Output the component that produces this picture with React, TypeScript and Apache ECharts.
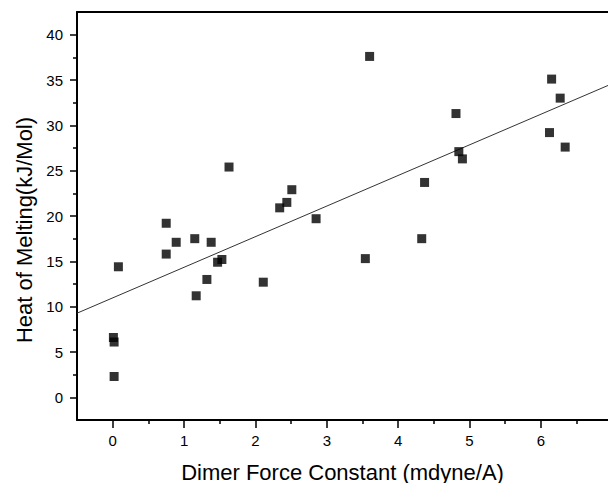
import React, { useEffect, useRef } from "react";
import * as echarts from "echarts";

// Data
const forceConstant = [
  0.01, 0.02, 0.02, 0.08, 0.75, 0.75, 0.89, 1.15, 1.17, 1.32, 1.38, 1.47, 1.53, 1.63, 2.11,
  2.34, 2.44, 2.51, 2.85, 3.54, 3.6, 4.33, 4.37, 4.81, 4.85, 4.9, 6.12, 6.15, 6.27, 6.34,
];
const heatOfMelting = [
  6.6, 6.1, 2.3, 14.4, 15.8, 19.2, 17.1, 17.5, 11.2, 13.0, 17.1, 14.9, 15.2, 25.4, 12.7,
  20.9, 21.5, 22.9, 19.7, 15.3, 37.6, 17.5, 23.7, 31.3, 27.1, 26.3, 29.2, 35.1, 33.0, 27.6,
];
// Linear fit line endpoints
const fitX = [-0.5, 7];
const fitY = [9.28, 34.6];

const xTickValues = [0, 1, 2, 3, 4, 5, 6];
const xMinorTickValues = [0.5, 1.5, 2.5, 3.5, 4.5, 5.5, 6.5];
const yTickValues = [0, 5, 10, 15, 20, 25, 30, 35, 40];
const yMinorTickValues = [2.5, 7.5, 12.5, 17.5, 22.5, 27.5, 32.5, 37.5];

const X_MIN = -0.5;
const X_MAX = 6.94; // the plot is cut at the right edge of the picture
const Y_MIN = -2.5;
const Y_MAX = 42.5;

const FONT = "'Liberation Sans', Arial, sans-serif";

export default function App() {
  const ref = useRef<HTMLDivElement>(null);
  useEffect(() => {
    if (!ref.current) return;
    const chart = echarts.init(ref.current, null, { renderer: "svg" });
    const points = forceConstant.map((x, i) => [x, heatOfMelting[i]]);
    const fit = fitX.map((x, i) => [x, fitY[i]]);
    const axisLine = { show: true, onZero: false, lineStyle: { color: "#000", width: 2 } };
    const tickStyle = { color: "#000", width: 1.5 };
    chart.setOption({
      animation: false,
      backgroundColor: "#fff",
      grid: {
        left: 77,
        top: 12,
        right: 0,
        bottom: 63,
        show: false,
        outerBoundsMode: "none",
        containLabel: false,
      },
      xAxis: [
        {
          type: "value",
          min: X_MIN,
          max: X_MAX,
          position: "bottom",
          axisLine,
          axisTick: { show: true, customValues: xTickValues, length: 8, lineStyle: tickStyle },
          axisLabel: { customValues: xTickValues, fontSize: 15, color: "#000", margin: 13, fontFamily: FONT },
          splitLine: { show: false },
          name: "Dimer Force Constant (mdyne/A)",
          nameLocation: "middle",
          nameGap: 41,
          nameTextStyle: { fontSize: 22, color: "#000", fontFamily: FONT },
        },
        {
          type: "value",
          min: X_MIN,
          max: X_MAX,
          position: "bottom",
          axisLine: { show: false, onZero: false },
          axisTick: { show: true, customValues: xMinorTickValues, length: 4, lineStyle: tickStyle },
          axisLabel: { show: false },
          splitLine: { show: false },
        },
        {
          type: "value",
          min: X_MIN,
          max: X_MAX,
          position: "top",
          axisLine,
          axisTick: { show: false },
          axisLabel: { show: false },
          splitLine: { show: false },
        },
      ],
      yAxis: [
        {
          type: "value",
          min: Y_MIN,
          max: Y_MAX,
          position: "left",
          axisLine,
          axisTick: { show: true, customValues: yTickValues, length: 7, lineStyle: tickStyle },
          axisLabel: { customValues: yTickValues, fontSize: 15, color: "#000", margin: 14, fontFamily: FONT },
          splitLine: { show: false },
        },
        {
          type: "value",
          min: Y_MIN,
          max: Y_MAX,
          position: "left",
          axisLine: { show: false, onZero: false },
          axisTick: { show: true, customValues: yMinorTickValues, length: 4, lineStyle: tickStyle },
          axisLabel: { show: false },
          splitLine: { show: false },
        },
      ],
      graphic: [
        {
          type: "text",
          x: 24,
          y: 230,
          rotation: Math.PI / 2,
          style: {
            text: "Heat of Melting(kJ/Mol)",
            fontSize: 22,
            fontFamily: FONT,
            fill: "#000",
            align: "center",
            verticalAlign: "middle",
          },
        },
      ],
      series: [
        {
          type: "line",
          data: fit,
          xAxisIndex: 0,
          yAxisIndex: 0,
          showSymbol: false,
          symbol: "none",
          lineStyle: { color: "#333", width: 1 },
          silent: true,
          clip: true,
          z: 1,
        },
        {
          type: "scatter",
          data: points,
          xAxisIndex: 0,
          yAxisIndex: 0,
          symbol: "rect",
          symbolSize: 9,
          itemStyle: { color: "#000" },
          z: 2,
        },
      ],
    });
    return () => chart.dispose();
  }, []);
  return (
    <div
      ref={ref}
      style={{ position: "fixed", left: 0, top: 0, width: 608, height: 483, background: "#fff" }}
    />
  );
}
